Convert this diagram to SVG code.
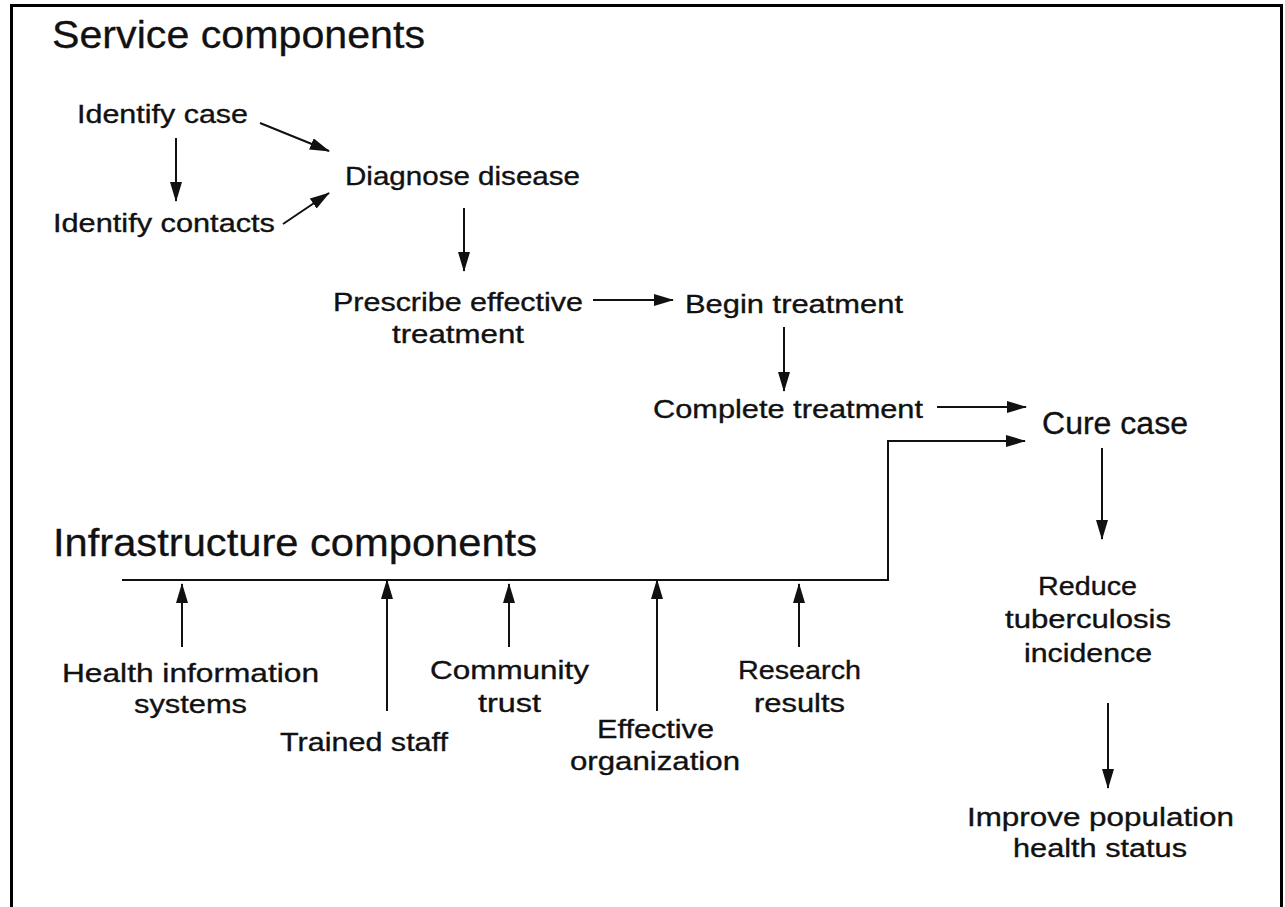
<svg xmlns="http://www.w3.org/2000/svg" width="1285" height="907" viewBox="0 0 1285 907">
<style>
text{font-family:"Liberation Sans",Arial,sans-serif;fill:#111;font-size:26px;stroke:#111;stroke-width:0.35}
.h{font-size:38px;stroke-width:0.3}
.big{font-size:31px}
.c{stroke:#111;stroke-width:2;fill:none}
</style>
<defs>
<marker id="ah" markerUnits="userSpaceOnUse" markerWidth="20" markerHeight="12" refX="19" refY="6" orient="auto">
<path d="M0,0 L20,6 L0,12 z" fill="#111"/>
</marker>
</defs>
<rect width="1285" height="907" fill="#fff"/>
<path d="M11.5,907 V5.5 H1281.5 V907" fill="none" stroke="#000" stroke-width="3"/>
<g id="titles">
<text class="h" x="52" y="48" textLength="373" lengthAdjust="spacingAndGlyphs">Service components</text>
<text class="h" x="53" y="556" textLength="484" lengthAdjust="spacingAndGlyphs">Infrastructure components</text>
</g>
<g id="identify-case"><text x="77" y="123" textLength="171" lengthAdjust="spacingAndGlyphs">Identify case</text></g>
<g id="identify-contacts"><text x="53" y="231.5" textLength="222" lengthAdjust="spacingAndGlyphs">Identify contacts</text></g>
<g id="diagnose"><text x="345" y="185" textLength="235" lengthAdjust="spacingAndGlyphs">Diagnose disease</text></g>
<g id="prescribe"><text x="333" y="311" textLength="250" lengthAdjust="spacingAndGlyphs">Prescribe effective</text><text x="392" y="343" textLength="132" lengthAdjust="spacingAndGlyphs">treatment</text></g>
<g id="begin"><text x="685" y="313" textLength="218" lengthAdjust="spacingAndGlyphs">Begin treatment</text></g>
<g id="complete"><text x="653" y="418" textLength="270" lengthAdjust="spacingAndGlyphs">Complete treatment</text></g>
<g id="cure"><text class="big" x="1042" y="434" textLength="146" lengthAdjust="spacingAndGlyphs">Cure case</text></g>
<g id="reduce"><text x="1038" y="595" textLength="99" lengthAdjust="spacingAndGlyphs">Reduce</text><text x="1005" y="628" textLength="166" lengthAdjust="spacingAndGlyphs">tuberculosis</text><text x="1024" y="662" textLength="128" lengthAdjust="spacingAndGlyphs">incidence</text></g>
<g id="improve"><text x="967" y="826" textLength="267" lengthAdjust="spacingAndGlyphs">Improve population</text><text x="1013" y="857" textLength="174" lengthAdjust="spacingAndGlyphs">health status</text></g>
<g id="his"><text x="62" y="682" textLength="257" lengthAdjust="spacingAndGlyphs">Health information</text><text x="134" y="713" textLength="113" lengthAdjust="spacingAndGlyphs">systems</text></g>
<g id="staff"><text x="280" y="751" textLength="168" lengthAdjust="spacingAndGlyphs">Trained staff</text></g>
<g id="community"><text x="430" y="679" textLength="159" lengthAdjust="spacingAndGlyphs">Community</text><text x="478" y="712" textLength="63" lengthAdjust="spacingAndGlyphs">trust</text></g>
<g id="organization"><text x="597" y="738" textLength="117" lengthAdjust="spacingAndGlyphs">Effective</text><text x="570" y="770" textLength="170" lengthAdjust="spacingAndGlyphs">organization</text></g>
<g id="research"><text x="738" y="679" textLength="123" lengthAdjust="spacingAndGlyphs">Research</text><text x="754" y="712" textLength="91" lengthAdjust="spacingAndGlyphs">results</text></g>
<g id="connectors" class="c">
<path class="c" d="M176,138 V201" marker-end="url(#ah)"/>
<path class="c" d="M260,123 L329,151" marker-end="url(#ah)"/>
<path class="c" d="M283,224 L329,193" marker-end="url(#ah)"/>
<path class="c" d="M464,208 V271" marker-end="url(#ah)"/>
<path class="c" d="M593,300 H673" marker-end="url(#ah)"/>
<path class="c" d="M784,327 V391" marker-end="url(#ah)"/>
<path class="c" d="M937,407 H1026" marker-end="url(#ah)"/>
<path class="c" d="M122,580 H888 V441 H1025" marker-end="url(#ah)"/>
<path class="c" d="M1102,448 V539" marker-end="url(#ah)"/>
<path class="c" d="M1108,703 V788" marker-end="url(#ah)"/>
<path class="c" d="M182,647 V584" marker-end="url(#ah)"/>
<path class="c" d="M387,711 V580" marker-end="url(#ah)"/>
<path class="c" d="M509,647 V584" marker-end="url(#ah)"/>
<path class="c" d="M657,711 V580" marker-end="url(#ah)"/>
<path class="c" d="M799,647 V584" marker-end="url(#ah)"/>
</g>
</svg>
